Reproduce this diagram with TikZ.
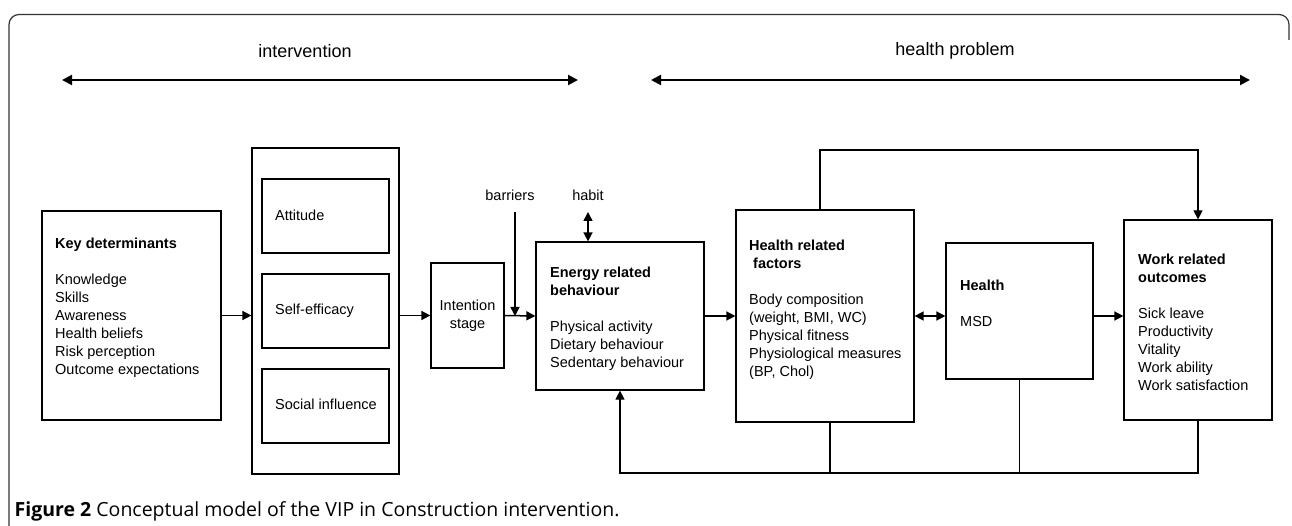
\documentclass[tikz,border=0pt]{standalone}
\usepackage{fontspec}
\setmainfont{Liberation Sans}
\newfontfamily\capfont{Open Sans}
\usetikzlibrary{arrows.meta}

\begin{document}
\begin{tikzpicture}[x=1pt,y=-1pt,
        box/.style={draw, line width=1.2pt, inner sep=0pt, font=\fontsize{14.5}{18}\selectfont},
        txt/.style={font=\fontsize{14.5}{18}\selectfont, align=left, inner sep=0pt, anchor=west},
        arr/.style={line width=1.5pt, -{Triangle[length=9pt,width=9pt]}},
        darr/.style={line width=1.5pt, {Triangle[length=9pt,width=9pt]}-{Triangle[length=9pt,width=9pt]}},
        span/.style={line width=2pt, {Triangle[length=10pt,width=10pt]}-{Triangle[length=10pt,width=10pt]}},
        fb/.style={line width=1.2pt}]
        \useasboundingbox (0,0) rectangle (1292,526);
        \draw [line width=1.2pt, black!80, rounded corners=10pt] (9,526) -- (9,14.5) -- (1289,14.5) -- (1289,40);

        \node [font=\fontsize{18}{22}\selectfont] (ivlab) at (305,51) {intervention};
        \node [font=\fontsize{18}{22}\selectfont] (hplab) at (955,51) {health problem};
        \coordinate (ivl) at (62,80);
        \coordinate (ivr) at (578,80);
        \coordinate (hpl) at (651,80);
        \coordinate (hpr) at (1250,80);
        \draw [span] (ivl) -- (ivr);
        \draw [span] (hpl) -- (hpr);

        \node [box, minimum width=179pt, minimum height=209pt] (key) at (131.5,315.5) {};
        \node [txt] (keyt) at (55,307.4) {\textbf{Key determinants}\\[18pt]Knowledge\\Skills\\Awareness\\Health beliefs\\Risk perception\\Outcome expectations};

        \node [box, minimum width=147pt, minimum height=326pt] (cont) at (325.5,311) {};
        \node [box, minimum width=127pt, minimum height=74pt] (att) at (325.5,216) {};
        \node [box, minimum width=127pt, minimum height=74pt] (self) at (325.5,311) {};
        \node [box, minimum width=127pt, minimum height=74pt] (soc) at (325.5,406) {};
        \node [txt] (attt) at (275,215.5) {Attitude};
        \node [txt] (selft) at (275,310.5) {Self-efficacy};
        \node [txt] (soct) at (275,404.5) {Social influence};

        \node [box, align=center, minimum width=73pt, minimum height=105pt] (intent) at (467.5,315.5) {Intention\\stage};

        \node [box, minimum width=168pt, minimum height=148pt] (energy) at (620,316) {};
        \node [txt] (energyt) at (550,318.9) {\textbf{Energy related}\\\textbf{behaviour}\\[18pt]Physical activity\\Dietary behaviour\\Sedentary behaviour};
        \node [txt, anchor=south, inner ysep=11pt] (barr) at (510,212) {barriers};
        \node [txt, anchor=south, inner ysep=11pt] (habit) at (588,212) {habit};
        \coordinate (bj) at (515,316);

        \node [box, minimum width=178pt, minimum height=212pt] (hrel) at (825,316) {};
        \node [txt] (hrelt) at (749,309.6) {\textbf{Health related}\\\hspace*{4pt}\textbf{factors}\\[18pt]Body composition\\(weight, BMI, WC)\\Physical fitness\\Physiological measures\\(BP, Chol)};

        \node [box, minimum width=147pt, minimum height=136pt] (health) at (1019.5,311) {};
        \node [txt] (healtht) at (960,303) {\textbf{Health}\\[18pt]MSD};

        \node [box, minimum width=148pt, minimum height=200pt] (work) at (1198,320) {};
        \node [txt] (workt) at (1138,322.4) {\textbf{Work related}\\\textbf{outcomes}\\[18pt]Sick leave\\Productivity\\Vitality\\Work ability\\Work satisfaction};

        \draw [arr] (key.east) -- (key.east -| cont.west);
        \draw [arr] (intent.west -| cont.east) -- (intent.west);
        \draw [arr] (intent.east) -- (energy.west);
        \draw [arr] (barr.south -| bj) -- (bj);
        \draw [darr] (habit.south) -- (habit.south |- energy.north);
        \draw [arr] (energy.east) -- (hrel.west);
        \draw [darr] (hrel.east) -- (hrel.east -| health.west);
        \draw [arr] (hrel.east -| health.east) -- (hrel.east -| work.west);

        \coordinate (topy) at (0,150);
        \coordinate (boty) at (0,473);
        \draw [arr, fb] ([xshift=-5pt]hrel.north) -- ([xshift=-5pt]hrel.north |- topy) -| (work.north);
        \draw [fb] ([xshift=5pt]hrel.south) -- ([xshift=5pt]hrel.south |- boty);
        \draw [fb] (health.south) -- (health.south |- boty);
        \draw [arr, fb] (work.south) |- (energy.south |- boty) -- (energy.south);

        \node [anchor=base west, inner sep=0pt, font=\capfont\fontsize{19.5}{23}\selectfont] (cap) at (14.5,516) {\textbf{Figure 2} Conceptual model of the VIP in Construction intervention.};
    \end{tikzpicture}
\end{document}
